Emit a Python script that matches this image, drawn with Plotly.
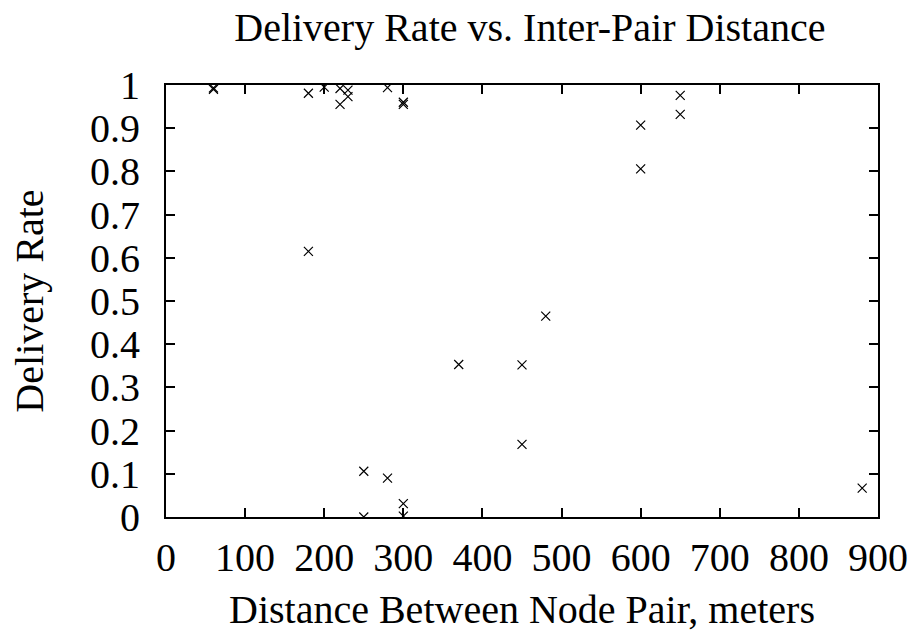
import plotly.graph_objects as go

distance = [60, 60, 180, 200, 220, 230, 230, 220, 280, 300, 300, 180, 250, 280, 300, 250, 300,
            370, 450, 450, 480, 600, 600, 650, 650, 880]
delivery_rate = [0.993, 0.99, 0.981, 0.995, 0.992, 0.988, 0.973, 0.955, 0.994, 0.96, 0.955, 0.615,
                 0.106, 0.09, 0.031, 0.0, 0.002, 0.353, 0.352, 0.168, 0.465, 0.907, 0.806, 0.976,
                 0.932, 0.067]
x_ticks = [0, 100, 200, 300, 400, 500, 600, 700, 800, 900]
y_ticks = [0, 0.1, 0.2, 0.3, 0.4, 0.5, 0.6, 0.7, 0.8, 0.9, 1]
y_tick_text = ["0", "0.1", "0.2", "0.3", "0.4", "0.5", "0.6", "0.7", "0.8", "0.9", "1"]

FONT = "Liberation Serif, Times New Roman, serif"
FS = 40

fig = go.Figure(go.Scatter(
    x=distance, y=delivery_rate, mode="markers",
    marker=dict(symbol="x-thin", size=9, color="black",
                line=dict(color="black", width=1.2)),
    showlegend=False,
))

axis_common = dict(
    showline=True, linecolor="black", linewidth=2, mirror="ticks",
    ticks="inside", ticklen=9, tickwidth=1.5, tickcolor="black",
    showgrid=False, zeroline=False, automargin=False,
    tickfont=dict(family=FONT, size=FS, color="black"),
)

fig.update_xaxes(range=[0, 900], tickvals=x_ticks, ticklabelstandoff=4,
                 title=dict(text="Distance Between Node Pair, meters",
                            font=dict(family=FONT, size=FS, color="black"), standoff=16),
                 **axis_common)
fig.update_yaxes(range=[0, 1], tickvals=y_ticks, ticktext=y_tick_text, ticklabelstandoff=16,
                 title=dict(text="Delivery Rate",
                            font=dict(family=FONT, size=FS, color="black"), standoff=34),
                 **axis_common)

fig.update_layout(
    width=912, height=634,
    margin=dict(l=166, r=34, t=85, b=117),
    paper_bgcolor="white", plot_bgcolor="white",
    title=dict(text="Delivery Rate vs. Inter-Pair Distance",
               font=dict(family=FONT, size=FS, color="black"),
               x=0.581, xanchor="center", y=0.957, yanchor="middle"),
)

fig.write_html("out.html")
